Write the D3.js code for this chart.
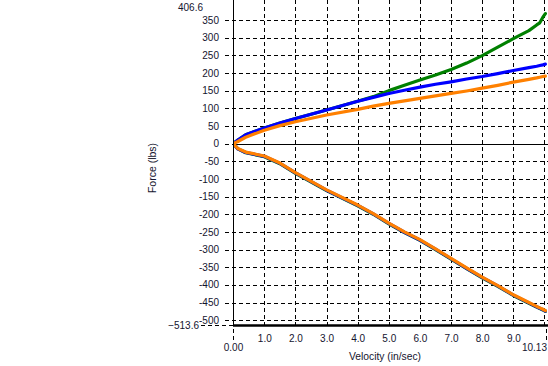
<!DOCTYPE html>
<html><head><meta charset="utf-8">
<script src="https://cdn.jsdelivr.net/npm/d3@7"></script>
<style>
html,body{margin:0;padding:0;background:#fff;}
svg{display:block;font-family:"Liberation Sans",Arial,sans-serif;}
</style></head>
<body>
<svg id="chart" width="548" height="366"></svg>
<script>
// ---- data ----
const velocity = [0,0.15,0.4,1,1.5,2,3,4,4.5,5,5.5,6,6.5,7,7.5,8,8.5,9,9.5,9.75,9.85,9.95,10.03];
const greenUpper  = [0,10,25,44,58,71,95,120,133,150,165,180,194,210,228,249,273,297,320,336,342,358,368];
const blueUpper   = [0,10,25,44,58,71,95,120,131,142,151,160,168,175,183,190,198,207,215,219,221,223,225];
const orangeUpper = [0,6,18,38,51,62,81,97,106,114,121,128,135,142,149,157,165,174,182,186,188,190,191];
const greenLower  = [0,-15,-26,-37,-57,-84,-133,-176,-200,-227,-252,-274,-300,-327,-354,-380,-404,-430,-452,-463,-467,-471,-475];
const blueLower   = [0,-15,-25,-36,-56,-83,-132,-175,-199,-226,-251,-273,-299,-326,-353,-379,-403,-429,-451,-462,-466,-470,-474];
const orangeLower = [0,-14,-24,-35,-55,-82,-131,-174,-198,-225,-250,-272,-298,-325,-352,-378,-402,-428,-450,-461,-465,-469,-473];
const xTicks = [1,2,3,4,5,6,7,8,9,10];
const xTickLabels = ["1.0","2.0","3.0","4.0","5.0","6.0","7.0","8.0","9.0",""];
const yTicks = [-500,-450,-400,-350,-300,-250,-200,-150,-100,-50,0,50,100,150,200,250,300,350];
const xMin = 0, xMax = 10.13, yMin = -513.6, yMax = 406.6;
const xTitle = "Velocity (in/sec)", yTitle = "Force (lbs)";

// ---- drawing ----
const svg = d3.select("#chart");
const x = d3.scaleLinear().domain([xMin, xMax]).range([233.2, 548.5]);
const y = d3.scaleLinear().domain([yMin, yMax]).range([325, 0]);
const txt = "#14142e";
const dash = "4,3";

// horizontal grid + left ticks
svg.append("g").selectAll("line").data(yTicks.filter(d => d !== 0)).join("line")
  .attr("x1", 225).attr("x2", 548)
  .attr("y1", d => Math.round(y(d)) + 0.5).attr("y2", d => Math.round(y(d)) + 0.5)
  .attr("stroke", "#000").attr("stroke-dasharray", dash).attr("stroke-width", 1);
// vertical grid
svg.append("g").selectAll("line").data(xTicks).join("line")
  .attr("x1", d => Math.round(x(d)) + 0.5).attr("x2", d => Math.round(x(d)) + 0.5)
  .attr("y1", 0).attr("y2", 325)
  .attr("stroke", "#000").attr("stroke-dasharray", dash).attr("stroke-width", 1);
// zero line (y direction, left end tick too)
svg.append("line").attr("x1", 225).attr("x2", 548)
  .attr("y1", Math.round(y(0)) + 0.5).attr("y2", Math.round(y(0)) + 0.5)
  .attr("stroke", "#000").attr("stroke-dasharray", "4,3");
svg.append("line").attr("x1", 233).attr("x2", 548)
  .attr("y1", Math.round(y(0)) + 0.5).attr("y2", Math.round(y(0)) + 0.5)
  .attr("stroke", "#000");
// endpoint extension marks
svg.append("line").attr("x1", 201).attr("x2", 233).attr("y1", 325.5).attr("y2", 325.5)
  .attr("stroke", "#000").attr("stroke-dasharray", dash);
svg.append("line").attr("x1", 233.5).attr("x2", 233.5).attr("y1", 329).attr("y2", 343)
  .attr("stroke", "#000").attr("stroke-dasharray", dash);
svg.append("line").attr("x1", 546.5).attr("x2", 546.5).attr("y1", 329).attr("y2", 343)
  .attr("stroke", "#000").attr("stroke-dasharray", dash);

// series
const line = d3.line().x((d) => x(d[0])).y(d => y(d[1]));
const series = [
  {color:"#008000", up:greenUpper, lo:greenLower},
  {color:"#0000ff", up:blueUpper, lo:blueLower},
  {color:"#ff8000", up:orangeUpper, lo:orangeLower}
];
const clip = svg.append("clipPath").attr("id","plotclip").append("rect")
  .attr("x",233).attr("y",0).attr("width",315).attr("height",325);
const plot = svg.append("g").attr("clip-path","url(#plotclip)");
series.forEach(s => {
  [s.up, s.lo].forEach(vals => {
    plot.append("path")
      .datum(velocity.map((v, i) => [v, vals[i]]))
      .attr("d", line).attr("fill", "none")
      .attr("stroke", s.color).attr("stroke-width", 3.2)
      .attr("stroke-linejoin", "round").attr("stroke-linecap", "round");
  });
});

// axes lines
svg.append("line").attr("x1", 233.5).attr("x2", 233.5).attr("y1", 0).attr("y2", 326)
  .attr("stroke", "#000").attr("stroke-width", 1);
svg.append("line").attr("x1", 233).attr("x2", 548).attr("y1", 325.5).attr("y2", 325.5)
  .attr("stroke", "#000").attr("stroke-width", 2.5);

// y tick labels
svg.append("g").selectAll("text").data(yTicks).join("text")
  .attr("x", 219).attr("y", d => y(d) + 3.6)
  .attr("text-anchor", "end").attr("font-size", 10).attr("fill", txt)
  .text(d => d);
svg.append("text").attr("x", 203).attr("y", 10.5).attr("text-anchor","end")
  .attr("font-size", 10).attr("fill", txt).text(d3.format(".1f")(yMax));
svg.append("text").attr("x", 199).attr("y", 329.3).attr("text-anchor","end")
  .attr("font-size", 10).attr("fill", txt).text(d3.format(".1f")(yMin));

// x tick labels
svg.append("g").selectAll("text").data(xTicks).join("text")
  .attr("x", d => x(d) + 0.5).attr("y", 342)
  .attr("text-anchor", "middle").attr("font-size", 10).attr("fill", txt)
  .text((d, i) => xTickLabels[i]);
svg.append("text").attr("x", 233.5).attr("y", 351).attr("text-anchor","middle")
  .attr("font-size", 10).attr("fill", txt).text(d3.format(".2f")(xMin));
svg.append("text").attr("x", 547).attr("y", 351).attr("text-anchor","end")
  .attr("font-size", 10).attr("fill", txt).text(d3.format(".2f")(xMax));

// titles
svg.append("text").attr("x", 385).attr("y", 359.5).attr("text-anchor","middle")
  .attr("font-size", 10.3).attr("fill", txt).text(xTitle);
svg.append("text").attr("transform", "translate(155.5,168) rotate(-90)")
  .attr("text-anchor","middle").attr("font-size", 10.5).attr("fill", txt).text(yTitle);
</script>
</body></html>
